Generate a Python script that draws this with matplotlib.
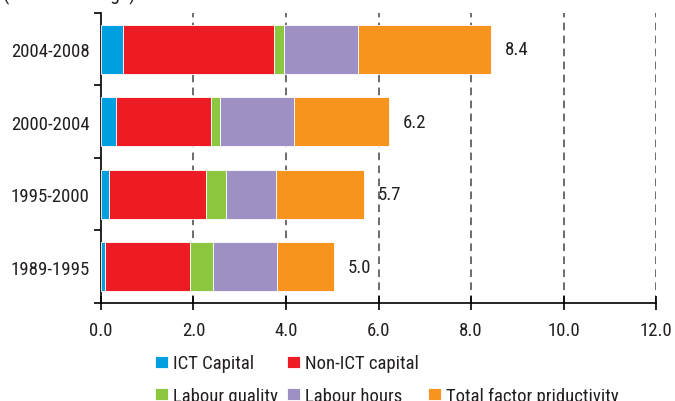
import matplotlib.pyplot as plt
from matplotlib.patches import Rectangle

plt.rcParams['font.family'] = ['Roboto Condensed', 'DejaVu Sans']

# data (percentage points of growth)
periods = ["1989-1995", "1995-2000", "2000-2004", "2004-2008"]
ict_capital = [0.09, 0.17, 0.32, 0.47]
non_ict_capital = [1.83, 2.10, 2.06, 3.27]
labour_quality = [0.50, 0.43, 0.19, 0.22]
labour_hours = [1.39, 1.08, 1.60, 1.60]
tfp = [1.23, 1.91, 2.06, 2.87]
totals = [5.0, 5.7, 6.2, 8.4]

series = [
    ("ICT Capital", ict_capital, "#009fdf"),
    ("Non-ICT capital", non_ict_capital, "#ed1c24"),
    ("Labour quality", labour_quality, "#8dc63f"),
    ("Labour hours", labour_hours, "#9e8fc4"),
    ("Total factor priductivity", tfp, "#f7941d"),
]

text_col = "#231f20"
fs = 13.5

fig, ax = plt.subplots(figsize=(6.75, 4.02), dpi=100)
fig.subplots_adjust(left=0.1496, right=0.9719, top=0.9652, bottom=0.2438)

ypos = list(range(len(periods)))
left = [0.0] * len(periods)
handles = {}
for name, vals, col in series:
    b = ax.barh(ypos, vals, left=left, height=0.67, color=col,
                edgecolor="white", linewidth=0.6, zorder=3)
    handles[name] = b
    left = [l + v for l, v in zip(left, vals)]

for y, end, tot in zip(ypos, left, totals):
    ax.annotate(f"{tot:.1f}", (end, y), xytext=(10, 0), textcoords="offset points",
                va="center", ha="left", fontsize=fs, color=text_col, zorder=4)

ax.set_xlim(0, 12)
ax.set_ylim(-0.5, 3.5)
ax.set_xticks([0, 2, 4, 6, 8, 10, 12])
ax.set_xticklabels([f"{v:.1f}" for v in [0, 2, 4, 6, 8, 10, 12]])
ax.set_yticks(ypos)
ax.set_yticklabels(periods)
ax.set_yticks([-0.5, 0.5, 1.5, 2.5, 3.5], minor=True)

ax.tick_params(axis="x", direction="inout", length=10, width=1.2, pad=8,
               labelsize=fs, labelcolor=text_col)
ax.tick_params(axis="y", which="major", length=0, pad=8,
               labelsize=fs, labelcolor=text_col)
ax.tick_params(axis="y", which="minor", direction="out", length=5, width=1.2)

for s in ["top", "right"]:
    ax.spines[s].set_visible(False)
for s in ["left", "bottom"]:
    ax.spines[s].set_linewidth(1.2)

for x in [2, 4, 6, 8, 10, 12]:
    ax.axvline(x, color="#444444", linewidth=1.1, dashes=(5, 3.5), zorder=1)

# unit line sits mostly above the top edge, as in the source image
fig.text(0.005, 0.999, "(annual average)", fontsize=fs + 1, color=text_col,
         ha="left", va="baseline")

blank = Rectangle((0, 0), 1, 1, visible=False)
order = [handles["ICT Capital"], handles["Labour quality"],
         handles["Non-ICT capital"], handles["Labour hours"],
         blank, handles["Total factor priductivity"]]
labels = ["ICT Capital", "Labour quality", "Non-ICT capital", "Labour hours",
          "", "Total factor priductivity"]
fig.legend(order, labels, ncol=3, loc="upper left",
           bbox_to_anchor=(0.229, 0.116), bbox_transform=fig.transFigure,
           frameon=False, fontsize=fs, labelcolor=text_col,
           handlelength=0.7, handleheight=0.6, handletextpad=0.3,
           columnspacing=0.45, labelspacing=0.76, borderpad=0, borderaxespad=0)

fig.savefig("out.png", dpi=100)
